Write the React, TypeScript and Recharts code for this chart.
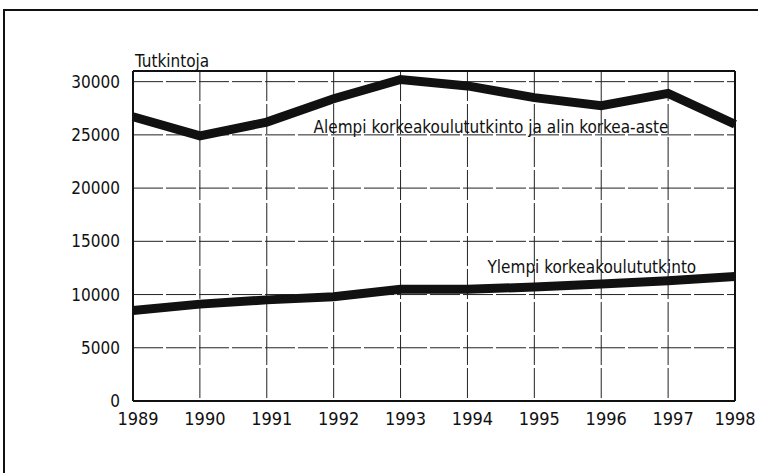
import { LineChart, Line, XAxis, YAxis, CartesianGrid, ReferenceLine, ReferenceDot } from 'recharts'

// Tutkinnot vuosittain 1989-1998
const YEARS = [1989, 1990, 1991, 1992, 1993, 1994, 1995, 1996, 1997, 1998]
const ALEMPI = [26700, 24900, 26200, 28400, 30200, 29600, 28500, 27750, 28900, 26000]
const YLEMPI = [8500, 9100, 9500, 9800, 10500, 10500, 10700, 11000, 11300, 11700]
const Y_TICKS = [0, 5000, 10000, 15000, 20000, 25000, 30000]

const ALEMPI_LABEL = 'Alempi korkeakoulututkinto ja alin korkea-aste'
const YLEMPI_LABEL = 'Ylempi korkeakoulututkinto'

const data = YEARS.map((year, i) => ({ year, alempi: ALEMPI[i], ylempi: YLEMPI[i] }))

const FONT = "'DejaVu Sans Condensed', 'DejaVu Sans', sans-serif"
const INK = '#111'

// year labels sit a little right of their gridline; the last one is pulled back in
const YearTick = (props: any) => {
  const { x, y, payload } = props
  const dx = payload.value === 1998 ? 0 : 5
  return (
    <text x={x + dx} y={y} dy="0.71em" textAnchor="middle" fill={INK} fontSize={18} fontFamily={FONT}>
      {payload.value}
    </text>
  )
}

export default function App() {
  return (
    <div style={{ position: 'fixed', left: 0, top: 0, width: 758, height: 473, background: '#fff', overflow: 'hidden' }}>
      {/* frame of the scanned page */}
      <div style={{ position: 'absolute', left: 3, top: 9, width: 755, height: 464, borderTop: '2px solid #111', borderLeft: '2px solid #111' }} />
      <div style={{ position: 'absolute', left: 135, top: 51, fontFamily: FONT, fontSize: 17, color: INK }}>
        Tutkintoja
      </div>
      <LineChart
        width={758}
        height={473}
        data={data}
        margin={{ top: 71, right: 23, bottom: 42, left: 0 }}
        style={{ position: 'absolute', left: 0, top: 0, fontFamily: FONT }}
      >
        <CartesianGrid stroke="#222" strokeWidth={1} strokeDasharray="30 3" />
        <XAxis
          dataKey="year"
          type="number"
          domain={[1989, 1998]}
          ticks={YEARS}
          height={30}
          axisLine={{ stroke: INK, strokeWidth: 2 }}
          tickLine={false}
          tickMargin={5}
          tick={<YearTick />}
        />
        <YAxis
          domain={[0, 31000]}
          ticks={Y_TICKS}
          width={133}
          axisLine={{ stroke: INK, strokeWidth: 2 }}
          tickLine={false}
          tickMargin={7}
          tick={{ fill: INK, fontSize: 17 }}
        />
        <ReferenceLine y={31000} stroke={INK} strokeWidth={2} />
        <ReferenceLine x={1998} stroke={INK} strokeWidth={2} />
        <Line
          type="linear"
          dataKey="alempi"
          stroke={INK}
          strokeWidth={9}
          dot={false}
          isAnimationActive={false}
        />
        <Line
          type="linear"
          dataKey="ylempi"
          stroke={INK}
          strokeWidth={9}
          dot={false}
          isAnimationActive={false}
        />
        <ReferenceDot
          x={1991.7}
          y={25700}
          r={0}
          label={{ value: ALEMPI_LABEL, position: 'right', offset: 0, fill: INK, fontSize: 17 }}
        />
        <ReferenceDot
          x={1994.3}
          y={12550}
          r={0}
          label={{ value: YLEMPI_LABEL, position: 'right', offset: 0, fill: INK, fontSize: 17 }}
        />
      </LineChart>
    </div>
  )
}
